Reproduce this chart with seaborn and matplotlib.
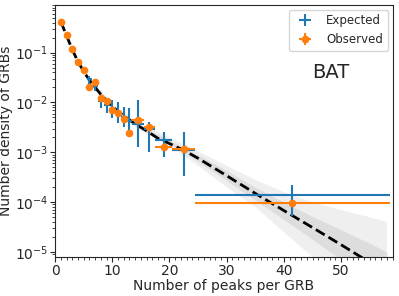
import numpy as np
import seaborn as sns
import matplotlib.pyplot as plt
from matplotlib.ticker import MultipleLocator

sns.set_style("ticks")
plt.rcParams['font.family'] = ['DejaVu Sans']
palette = sns.color_palette("tab10", 10)

# bins of number of peaks (centre, half width)
bin_x = [1, 2, 3, 4, 5, 6, 7, 8, 9, 10, 11, 12, 13, 14.5, 16.5, 19, 22.5, 41.5]
bin_hw = [0.5]*13 + [1, 1, 1.5, 2, 17]

observed = [0.42, 0.226, 0.117, 0.066, 0.045, 0.0203, 0.026, 0.0122, 0.0105, 0.0071,
            0.0061, 0.0047, 0.0024, 0.0044, 0.0032, 0.0013, 0.00117, 9.6e-5]

expected = [0.42, 0.22, 0.118, 0.068, 0.043, 0.029, 0.021, 0.0107, 0.0087, 0.0074,
            0.0063, 0.0051, 0.0042, 0.0037, 0.0029, 0.0018, 0.0011, 1.38e-4]
expected_lo = [0.40, 0.21, 0.110, 0.062, 0.037, 0.024, 0.017, 0.0079, 0.0062, 0.0049,
               0.0039, 0.0032, 0.0020, 0.00126, 0.0010, 0.00079, 0.00034, 5.2e-5]
expected_hi = [0.44, 0.23, 0.126, 0.074, 0.050, 0.034, 0.026, 0.0141, 0.0123, 0.0112,
               0.0100, 0.0081, 0.0079, 0.0112, 0.0040, 0.0026, 0.0026, 2.2e-4]

# best-fit model (dashed)
model_x = [1, 2, 3, 4, 5, 6, 7, 8, 10, 12, 14, 16, 18, 20, 22.5, 25, 30, 35, 40, 45, 50, 55, 58]
model_y = [0.42, 0.22, 0.115, 0.066, 0.042, 0.028, 0.020, 0.0145, 0.0083, 0.0054, 0.0037,
           0.0027, 0.0019, 0.0015, 0.0011, 7.6e-4, 3.4e-4, 1.5e-4, 6.8e-5, 3.1e-5,
           1.4e-5, 6.2e-6, 3.8e-6]

# spread of posterior model draws (grey fan)
band_x = [1, 5, 10, 15, 20, 25, 30, 35, 40, 45, 50, 55, 58]
band_outer_lo = [0.41, 0.041, 0.0073, 0.00275, 0.00135, 5.4e-4, 2.0e-4, 8e-5, 2.5e-5,
                 8e-6, 2.5e-6, 8e-7, 4e-7]
band_outer_hi = [0.43, 0.045, 0.0090, 0.0036, 0.0020, 1.05e-3, 5.4e-4, 2.8e-4, 1.6e-4,
                 1.0e-4, 7e-5, 5e-5, 4e-5]
band_inner_lo = [0.415, 0.042, 0.0077, 0.0029, 0.00145, 6.5e-4, 2.7e-4, 1.1e-4, 4.5e-5,
                 1.8e-5, 7e-6, 2.6e-6, 1.5e-6]
band_inner_hi = [0.425, 0.044, 0.0086, 0.0034, 0.00175, 8.9e-4, 4.3e-4, 2.0e-4, 1.0e-4,
                 5.2e-5, 2.8e-5, 1.5e-5, 1.0e-5]

fig, ax = plt.subplots(figsize=(3.99, 2.96), dpi=100)
fig.subplots_adjust(left=0.138, right=0.984, bottom=0.133, top=0.983)

ax.fill_between(band_x, band_outer_lo, band_outer_hi, color='#cccccc', alpha=0.3, lw=0)
ax.fill_between(band_x, band_inner_lo, band_inner_hi, color='#c4c4c4', alpha=0.4, lw=0)

sns.lineplot(x=model_x, y=model_y, ax=ax, color='black', linestyle='--', lw=2, zorder=3)

exp = np.array(expected)
yerr_exp = [exp - np.array(expected_lo), np.array(expected_hi) - exp]
ax.errorbar(bin_x, expected, xerr=bin_hw, yerr=yerr_exp, fmt='none',
            ecolor=palette[0], elinewidth=1.5, label='Expected', zorder=4)
ax.errorbar(bin_x, observed, xerr=bin_hw, yerr=np.zeros(len(observed)), fmt='o',
            color=palette[1], ecolor=palette[1], elinewidth=1.5, ms=4.5,
            label='Observed', zorder=5)

ax.set_yscale('log')
ax.set_xlim(0, 59)
ax.set_ylim(8.1e-6, 0.9)
ax.xaxis.set_minor_locator(MultipleLocator(1))
ax.tick_params(axis='both', which='major', labelsize=10, length=3.5, pad=1.5)
ax.tick_params(axis='both', which='minor', length=2)

ax.set_xlabel('Number of peaks per GRB', fontsize=10, labelpad=1)
ax.set_ylabel('Number density of GRBs', fontsize=10, labelpad=1)

ax.text(0.817, 0.73, 'BAT', transform=ax.transAxes, fontsize=14,
        ha='center', va='center')

ax.legend(loc='upper right', fontsize=8.5, handletextpad=0.8, borderaxespad=0.4)

plt.savefig('out.png', dpi=100)
